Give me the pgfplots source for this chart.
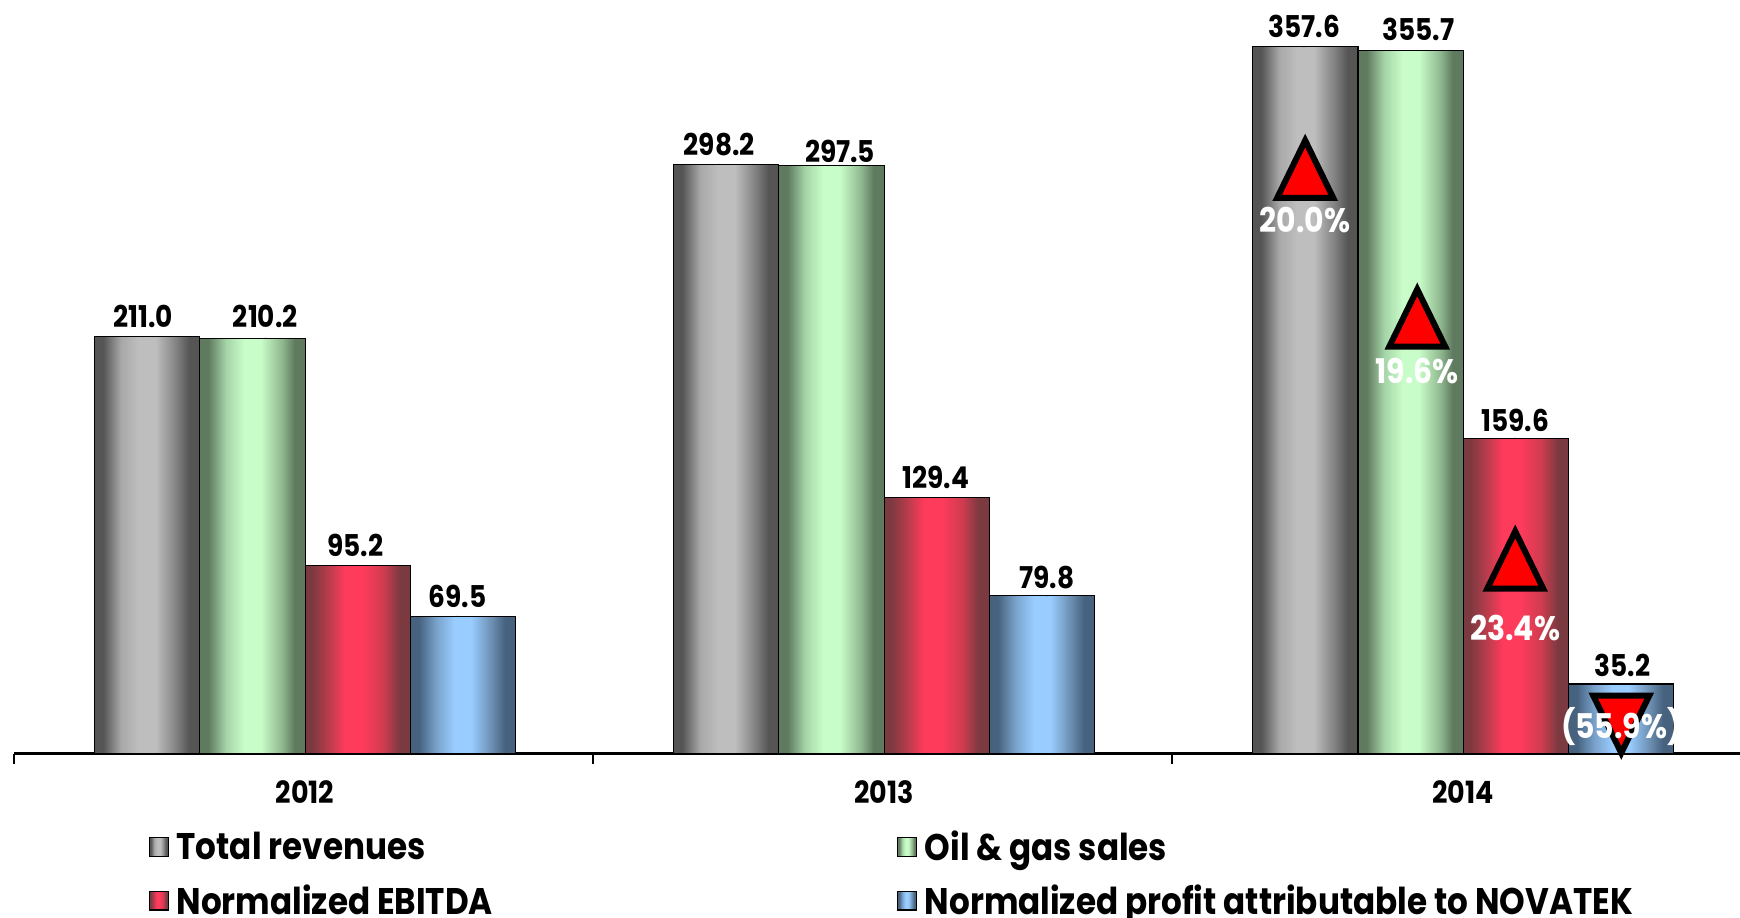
\documentclass[border=0pt]{standalone}
\usepackage{fontspec}
\usepackage{pgfplots}
\pgfplotsset{compat=1.18}
\setmainfont{Poppins}
\newfontfamily\chartfont[FakeStretch=0.88]{Poppins}

% Cylinder-like bar fills; the path's box maps onto the 25bp..75bp band.
\definecolor{grayE}{HTML}{555555}\definecolor{grayL}{HTML}{A8A8A8}\definecolor{grayC}{HTML}{BEBEBE}\definecolor{grayR}{HTML}{808080}
\definecolor{greenE}{HTML}{5F7A5F}\definecolor{greenL}{HTML}{A5D5A8}\definecolor{greenC}{HTML}{C8FCC8}\definecolor{greenR}{HTML}{90B890}
\definecolor{redE}{HTML}{7A3A40}\definecolor{redL}{HTML}{B83C4C}\definecolor{redC}{HTML}{FF3B5C}\definecolor{redR}{HTML}{D03C50}
\definecolor{blueE}{HTML}{46627F}\definecolor{blueL}{HTML}{7AA3CC}\definecolor{blueC}{HTML}{99CCFF}\definecolor{blueR}{HTML}{6A8CAE}
\pgfdeclarehorizontalshading{barGray}{100bp}{color(0bp)=(grayE);color(25bp)=(grayE);color(29bp)=(grayE);color(37.5bp)=(grayL);color(46bp)=(grayC);color(54bp)=(grayC);color(64bp)=(grayR);color(70bp)=(grayE);color(75bp)=(grayE);color(100bp)=(grayE)}
\pgfdeclarehorizontalshading{barGreen}{100bp}{color(0bp)=(greenE);color(25bp)=(greenE);color(29bp)=(greenE);color(37.5bp)=(greenL);color(46bp)=(greenC);color(54bp)=(greenC);color(64bp)=(greenR);color(70bp)=(greenE);color(75bp)=(greenE);color(100bp)=(greenE)}
\pgfdeclarehorizontalshading{barRed}{100bp}{color(0bp)=(redE);color(25bp)=(redE);color(28bp)=(redE);color(36bp)=(redL);color(44bp)=(redC);color(52bp)=(redC);color(62bp)=(redR);color(70bp)=(redE);color(75bp)=(redE);color(100bp)=(redE)}
\pgfdeclarehorizontalshading{barBlue}{100bp}{color(0bp)=(blueE);color(25bp)=(blueE);color(29bp)=(blueE);color(37.5bp)=(blueL);color(46bp)=(blueC);color(54bp)=(blueC);color(64bp)=(blueR);color(70bp)=(blueE);color(75bp)=(blueE);color(100bp)=(blueE)}

% Change indicators, origin on the centre line of the base.
\pgfdeclareplotmark{deltaUp}{%
  \pgfpathmoveto{\pgfqpoint{-21pt}{0pt}}%
  \pgfpathlineto{\pgfqpoint{21pt}{0pt}}%
  \pgfpathlineto{\pgfqpoint{0pt}{43pt}}%
  \pgfpathclose\pgfusepathqfillstroke}
\pgfdeclareplotmark{deltaDown}{%
  \pgfpathmoveto{\pgfqpoint{-21pt}{0pt}}%
  \pgfpathlineto{\pgfqpoint{21pt}{0pt}}%
  \pgfpathlineto{\pgfqpoint{0pt}{-43pt}}%
  \pgfpathclose\pgfusepathqfillstroke}

\pgfplotsset{
  % one bar per plot, so that every bar gets its own full shading
  finbar/.style 2 args={
    ybar, bar width=78.9pt, bar shift=#2, draw=black, line width=0.8pt, shade, shading=#1,
    legend image code/.code={\draw[draw=black,line width=0.8pt,shade,shading=#1] (0pt,-7pt) rectangle (14pt,7pt);},
  },
  valuelabels/.style={
    only marks, forget plot, mark=*, mark size=0.1pt,
    mark options={draw=none, fill=none},
    visualization depends on={\thisrow{dy} \as \lbly},
    point meta=y,
    nodes near coords style={anchor=center, text=black, font=\chartfont\bfseries\fontsize{22.5}{25}\selectfont,
      yshift=\lbly*0.75pt},
    nodes near coords={\pgfmathprintnumber[fixed,fixed zerofill,precision=1,assume math mode=true]{\pgfplotspointmeta}},
  },
  changemark/.style={
    only marks, forget plot, mark=#1,
    mark options={fill=red, draw=black, line width=4.5pt},
    visualization depends on={\thisrow{dy} \as \lbly},
    point meta=explicit symbolic,
    nodes near coords style={anchor=center, text=white, font=\chartfont\bfseries\fontsize{25.5}{28}\selectfont,
      yshift=\lbly*0.75pt},
  },
}

\begin{document}
\begin{tikzpicture}[x=1pt,y=1pt]
\path[use as bounding box] (0,0) rectangle (1305,687.75);
\begin{axis}[
  at={(10.5pt,122.6pt)}, anchor=south west, scale only axis,
  width=1294.5pt, height=563.2pt,
  xmin=-0.5026, xmax=2.478, ymin=0, ymax=380,
  clip=false,
  axis y line=none, axis x line*=bottom,
  axis line style={line width=2.4pt, black},
  tick align=outside,
  xtick={0,1,2}, xticklabels={2012,2013,2014},
  major tick length=0pt,
  minor xtick={-0.5026,0.4974,1.4974},
  minor tick length=7.5pt,
  every minor tick/.append style={line width=1.2pt, black},
  xticklabel style={font=\chartfont\bfseries\fontsize{23}{26}\selectfont, yshift=-17pt},
  legend columns=2,
  legend cell align=left,
  legend style={
    at={(101pt,-56pt)}, anchor=north west, draw=none, fill=none,
    font=\chartfont\bfseries\fontsize{27.8}{30}\selectfont,
    /tikz/every odd column/.append style={column sep=4pt},
    /tikz/every even column/.append style={column sep=301pt},
    row sep=12.5pt, inner sep=0pt,
  },
]
% 2012
\addplot[finbar={barGray}{-118.35pt}] coordinates {(0,211.0)};
\addlegendentry{Total revenues}
\addplot[finbar={barGreen}{-39.45pt}] coordinates {(0,210.2)};
\addlegendentry{Oil \& gas sales}
\addplot[finbar={barRed}{39.45pt}] coordinates {(0,95.2)};
\addlegendentry{Normalized EBITDA}
\addplot[finbar={barBlue}{118.35pt}] coordinates {(0,69.5)};
\addlegendentry{Normalized profit attributable to NOVATEK}
% 2013
\addplot[finbar={barGray}{-118.35pt}, forget plot] coordinates {(1,298.2)};
\addplot[finbar={barGreen}{-39.45pt}, forget plot] coordinates {(1,297.5)};
\addplot[finbar={barRed}{39.45pt}, forget plot] coordinates {(1,129.4)};
\addplot[finbar={barBlue}{118.35pt}, forget plot] coordinates {(1,79.8)};
% 2014
\addplot[finbar={barGray}{-118.35pt}, forget plot] coordinates {(2,357.6)};
\addplot[finbar={barGreen}{-39.45pt}, forget plot] coordinates {(2,355.7)};
\addplot[finbar={barRed}{39.45pt}, forget plot] coordinates {(2,159.6)};
\addplot[finbar={barBlue}{118.35pt}, forget plot] coordinates {(2,35.2)};

% value labels, x is the label's centre, y the bar's value
\addplot[valuelabels] table {
x y dy
-0.2794 211.0 20
-0.0686 210.2 22
0.0867 95.2 20
0.2630 69.5 20
0.7152 298.2 20
0.9240 297.5 14.4
1.0889 129.4 20
1.2807 79.8 18
1.7252 357.6 20
1.9226 355.7 21
2.0895 159.6 18
2.2753 35.2 19
};

% year-on-year changes
\addplot[changemark=deltaUp, nodes near coords={\pgfplotspointmeta\%}] table[meta=pct] {
x y pct dy
1.7271 281.2 20.0 -22
1.9206 205.9 19.6 -24
2.0898 83.4 23.4 -39.6
};
\addplot[changemark=deltaDown, nodes near coords={(\pgfplotspointmeta\%)}] table[meta=pct] {
x y pct dy
2.2729 29.3 55.9 -30.6
};
\end{axis}
\end{tikzpicture}
\end{document}
